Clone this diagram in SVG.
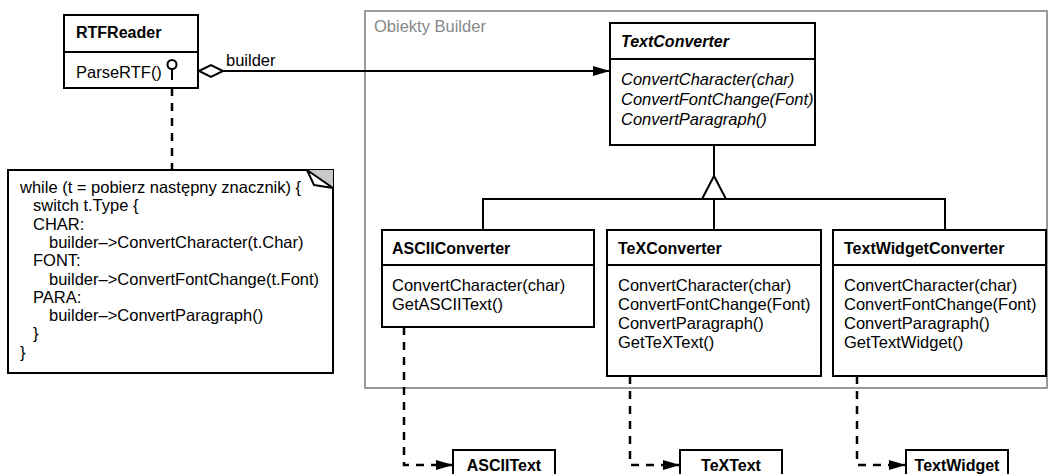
<svg xmlns="http://www.w3.org/2000/svg" width="1055" height="474" viewBox="0 0 1055 474">
<style>
text{font-family:"Liberation Sans",Arial,sans-serif;font-size:16.5px;fill:#000}
.t{font-weight:bold;font-size:16px}
.i{font-style:italic}
.box{fill:#fff;stroke:#000;stroke-width:2}
.ln{fill:none;stroke:#000;stroke-width:2}
.dash{fill:none;stroke:#000;stroke-width:2.5;stroke-dasharray:8,7}
.frame{fill:none;stroke:#999;stroke-width:2}
.fl{fill:#888;font-size:16.5px}
</style>
<defs>
<marker id="arr" markerWidth="17" markerHeight="10" refX="17" refY="5" orient="auto" markerUnits="userSpaceOnUse"><path d="M0,0 L17,5 L0,10 z" fill="#000" stroke="none"/></marker>
</defs>
<g id="frame">
<rect class="frame" x="365" y="11" width="682" height="377"/>
<text class="fl" x="374" y="32">Obiekty Builder</text>
</g>
<g id="connectors">
<path class="ln" d="M223,71 H610" marker-end="url(#arr)"/>
<polygon class="box" points="199,71 211,65 223,71 211,77"/>
<text x="226" y="66">builder</text>
<path class="dash" d="M172,88 V170"/>
<path class="ln" d="M714,145 V176 M714,199 V230 M483,230 V199 H945 V230"/>
<polygon class="box" points="714,176 702,199 726,199"/>
<path class="dash" d="M404,327 V465 H453" marker-end="url(#arr)"/>
<path class="dash" d="M630,376 V465 H680" marker-end="url(#arr)"/>
<path class="dash" d="M857,376 V465 H906" marker-end="url(#arr)"/>
</g>
<g id="RTFReader">
<rect class="box" x="64" y="15" width="134" height="73"/>
<line class="ln" x1="64" y1="52" x2="198" y2="52"/>
<text class="t" x="76" y="38">RTFReader</text>
<text x="76" y="78">ParseRTF()</text>
<line class="ln" x1="172" y1="69" x2="172" y2="80"/>
<circle cx="172" cy="64.5" r="4.5" fill="#fff" stroke="#000" stroke-width="2"/>
</g>
<g id="note">
<rect class="box" x="8" y="170" width="325" height="203"/>
<polygon points="307,170 333,170 333,188" fill="#c8c8c8" stroke="none"/>
<polygon points="307,170 314,185 333,188" fill="#fff" stroke="#000" stroke-width="2" stroke-linejoin="round"/>
<text x="20" y="193">while (t = pobierz następny znacznik) {</text>
<text x="33" y="211.3">switch t.Type {</text>
<text x="33" y="229.6">CHAR:</text>
<text x="49" y="247.9">builder–&gt;ConvertCharacter(t.Char)</text>
<text x="33" y="266.2">FONT:</text>
<text x="49" y="284.5">builder–&gt;ConvertFontChange(t.Font)</text>
<text x="33" y="302.8">PARA:</text>
<text x="49" y="321.1">builder–&gt;ConvertParagraph()</text>
<text x="33" y="339.4">}</text>
<text x="20" y="357.7">}</text>
</g>
<g id="TextConverter">
<rect class="box" x="610" y="23" width="205" height="122"/>
<line class="ln" x1="610" y1="59" x2="815" y2="59"/>
<text class="t i" x="621" y="47">TextConverter</text>
<text class="i" x="621" y="85">ConvertCharacter(char)</text>
<text class="i" x="621" y="105">ConvertFontChange(Font)</text>
<text class="i" x="621" y="125">ConvertParagraph()</text>
</g>
<g id="ASCIIConverter">
<rect class="box" x="382" y="230" width="212" height="97"/>
<line class="ln" x1="382" y1="265" x2="594" y2="265"/>
<text class="t" x="392" y="254">ASCIIConverter</text>
<text x="392" y="291">ConvertCharacter(char)</text>
<text x="392" y="310">GetASCIIText()</text>
</g>
<g id="TeXConverter">
<rect class="box" x="607" y="230" width="214" height="146"/>
<line class="ln" x1="607" y1="265" x2="821" y2="265"/>
<text class="t" x="618" y="254">TeXConverter</text>
<text x="618" y="291">ConvertCharacter(char)</text>
<text x="618" y="310">ConvertFontChange(Font)</text>
<text x="618" y="329">ConvertParagraph()</text>
<text x="618" y="348">GetTeXText()</text>
</g>
<g id="TextWidgetConverter">
<rect class="box" x="833" y="230" width="213" height="146"/>
<line class="ln" x1="833" y1="265" x2="1046" y2="265"/>
<text class="t" x="844" y="254">TextWidgetConverter</text>
<text x="844" y="291">ConvertCharacter(char)</text>
<text x="844" y="310">ConvertFontChange(Font)</text>
<text x="844" y="329">ConvertParagraph()</text>
<text x="844" y="348">GetTextWidget()</text>
</g>
<g id="ASCIIText">
<rect class="box" x="453" y="450" width="102" height="40"/>
<text class="t" x="504" y="471" text-anchor="middle">ASCIIText</text>
</g>
<g id="TeXText">
<rect class="box" x="680" y="450" width="102" height="40"/>
<text class="t" x="731" y="471" text-anchor="middle">TeXText</text>
</g>
<g id="TextWidget">
<rect class="box" x="906" y="450" width="102" height="40"/>
<text class="t" x="957" y="471" text-anchor="middle">TextWidget</text>
</g>
</svg>
